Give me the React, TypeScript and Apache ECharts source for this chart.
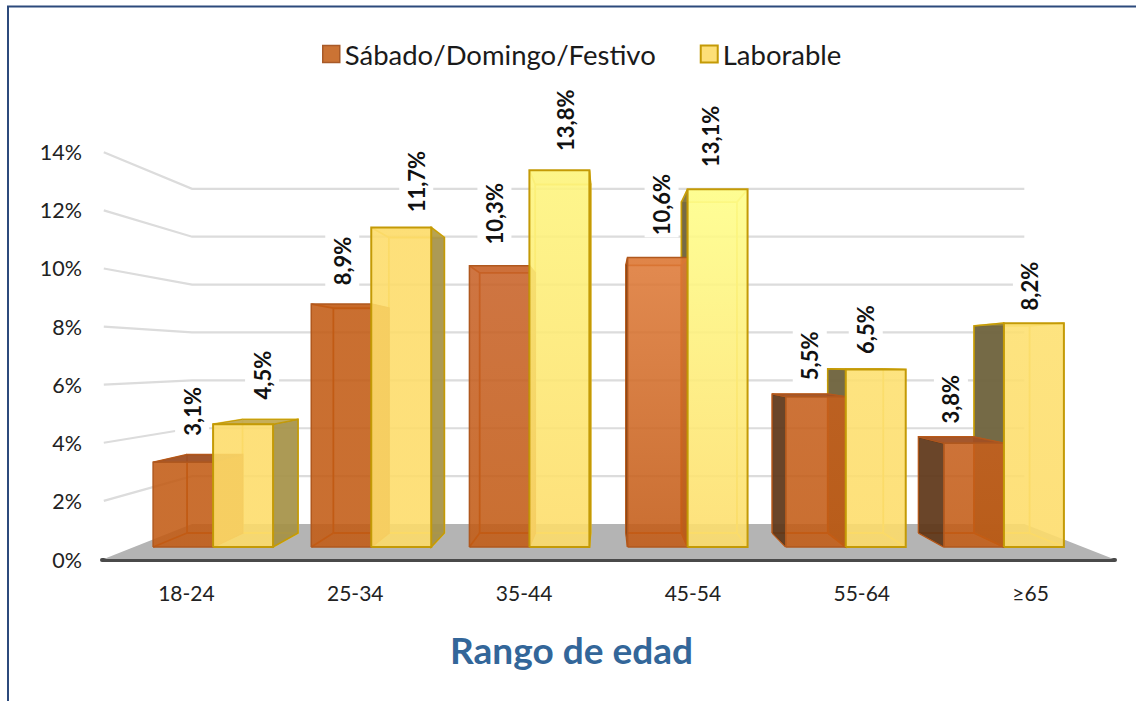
import React, { useEffect, useRef } from "react";
import * as echarts from "echarts";

const categories = ["18-24", "25-34", "35-44", "45-54", "55-64", "≥65"];
const weekendName = "Sábado/Domingo/Festivo";
const workdayName = "Laborable";
const weekendValues = [3.1, 8.9, 10.3, 10.6, 5.5, 3.8];
const workdayValues = [4.5, 11.7, 13.8, 13.1, 6.5, 8.2];
const wallTicks = [2, 4, 6, 8, 10, 12, 14];
const axisName = "Rango de edad";

// layout and style
const FONT = "Lato";
const VP = [606, 360];
const D_BACK = 0.925;
const D_WALL_FRONT = 1.064;
const D_WALL_BACK = 0.877;
const BAR_SHARE = 60 / 158.2;
const weekendLabelShift = [[9, -51], [1, -43], [-5, -52], [4, -53], [-6, -41], [-23, -44]];
const workdayLabelShift = [[19, -49], [15, -46], [6, -50], [-7, -53], [-10, -40], [-4, -37]];
const weekendFront = [
  ["#c25b14", "#c25b14"], ["#c25b14", "#c25b14"], ["#c86228", "#c25b14"],
  ["#de7a38", "#c25a15"], ["#c65f1c", "#c25b14"], ["#c65f1c", "#c25b14"],
];
const workdayFront = [
  ["#fddc6a", "#fddc6a"], ["#fddc6a", "#fddc6a"], ["#fdf57e", "#fddc6a"],
  ["#fefe89", "#fddd6c"], ["#fde070", "#fddc6a"], ["#fde070", "#fddc6a"],
];
const ORANGE = {
  alpha: 0.88, stroke: "#b0581e", inner: "#bf5a14", topOut: "rgba(160,80,35,0.96)",
  topIn: "rgba(190,90,20,0.25)", left: "rgba(95,55,25,0.93)", right: "rgb(190,95,28)", width: 1.5,
};
const YELLOW = {
  alpha: 0.89, stroke: "#c49a06", inner: "#eccb4e", topOut: "rgba(195,170,80,0.95)",
  topIn: "rgba(235,205,80,0.18)", left: "rgba(110,98,60,0.95)", right: "rgba(165,145,70,0.92)", width: 2,
};

const project = (x: number, y: number, d: number) => [VP[0] + (x - VP[0]) * d, VP[1] + (y - VP[1]) * d];

function barGeom(api: any, series: number) {
  const cat = api.value(0);
  const v = api.value(1);
  const [cx, y0] = api.coord([cat, 0]);
  const [, y1] = api.coord([cat, v]);
  const w = api.size([1, 0])[0] * BAR_SHARE;
  const x0 = series === 0 ? cx - w : cx;
  const x1 = x0 + w;
  return { cat, x0, x1, y0, y1 };
}

const poly = (points: number[][], style: any) => ({ type: "polygon", shape: { points }, style });
const line = (points: number[][], stroke: string, lineWidth = 1.5) => ({
  type: "polyline", shape: { points }, style: { stroke, lineWidth, fill: "none" },
});

function backEdges(st: any, x0: number, x1: number, y0: number, y1: number) {
  const bl = project(x0, y0, D_BACK), tl = project(x0, y1, D_BACK);
  const br = project(x1, y0, D_BACK), tr = project(x1, y1, D_BACK);
  return [
    line([bl, tl, tr, br, bl], st.inner, 1.8),
    line([[x0, y0], bl], st.inner, 1.8),
    line([[x1, y0], br], st.inner, 1.8),
    line([[x0, y1], tl], st.inner, 1.8),
    line([[x1, y1], tr], st.inner, 1.8),
  ];
}

// everything of the rear series that lies behind the front series
function renderRearParts(_p: any, api: any) {
  const { x0, x1, y0, y1 } = barGeom(api, 1);
  const children: any[] = backEdges(YELLOW, x0, x1, y0, y1);
  if (x0 > VP[0]) {
    const a = [x0, y0], b = [x0, y1], c = project(x0, y1, D_BACK), d = project(x0, y0, D_BACK);
    children.push(poly([a, b, c, d], { fill: YELLOW.left, stroke: YELLOW.stroke, lineWidth: 1.5 }));
  }
  return { type: "group", children };
}

function renderBar(series: number) {
  const st = series === 0 ? ORANGE : YELLOW;
  const fronts = series === 0 ? weekendFront : workdayFront;
  return (_p: any, api: any) => {
    const { cat, x0, x1, y0, y1 } = barGeom(api, series);
    const bl = project(x0, y0, D_BACK), tl = project(x0, y1, D_BACK);
    const br = project(x1, y0, D_BACK), tr = project(x1, y1, D_BACK);
    const children: any[] = series === 0 ? backEdges(st, x0, x1, y0, y1) : [];
    if (series === 0 && x0 > VP[0]) {
      children.push(poly([[x0, y0], [x0, y1], tl, bl], { fill: st.left, stroke: st.stroke, lineWidth: 1 }));
    }
    if (x1 < VP[0]) {
      children.push(poly([[x1, y0], [x1, y1], tr, br], { fill: st.right, stroke: st.stroke, lineWidth: series === 0 ? 1 : 1.5 }));
    }
    const topOutside = y1 > VP[1];
    children.push(poly([[x0, y1], [x1, y1], tr, tl], {
      fill: topOutside ? st.topOut : st.topIn, stroke: st.stroke, lineWidth: topOutside ? 1 : 0,
    }));
    const [c0, c1] = fronts[cat];
    children.push(poly([[x0, y0], [x0, y1], [x1, y1], [x1, y0]], {
      fill: new echarts.graphic.LinearGradient(0, 0, 0, 1, [{ offset: 0, color: c0 }, { offset: 1, color: c1 }]),
      opacity: st.alpha,
    }));
    children.push(line([[x0, y0], [x0, y1], [x1, y1], [x1, y0], [x0, y0]], st.stroke, st.width));
    return { type: "group", children };
  };
}

function renderLabel(series: number) {
  const shifts = series === 0 ? weekendLabelShift : workdayLabelShift;
  return (_p: any, api: any) => {
    const { cat, x0, x1, y1 } = barGeom(api, series);
    const [dx, dy] = shifts[cat];
    return {
      type: "text",
      x: (x0 + x1) / 2 + dx,
      y: y1 + dy,
      rotation: Math.PI / 2,
      style: {
        text: api.value(1).toFixed(1).replace(".", ",") + "%",
        align: "center", verticalAlign: "middle",
        font: `bold 22px ${FONT}`, fill: "#111",
        backgroundColor: "#fff", padding: [6, 2],
      },
    };
  };
}

function renderGridline(p: any, api: any) {
  const { x, width } = p.coordSys;
  const y = api.coord([0, api.value(1)])[1];
  return line([project(x, y, D_WALL_FRONT), project(x, y, D_WALL_BACK), project(x + width, y, D_WALL_BACK)], "#dcdcdc", 2.2);
}

function renderFloor(p: any, api: any) {
  const { x, width } = p.coordSys;
  const y = api.coord([0, 0])[1];
  return poly([
    project(x, y, D_WALL_FRONT), project(x, y, D_WALL_BACK),
    project(x + width, y, D_WALL_BACK), project(x + width, y, D_WALL_FRONT),
  ], { fill: "#b4b4b4" });
}

const pairs = (vals: number[]) => vals.map((v, i) => [i, v]);

export default function App() {
  const ref = useRef<HTMLDivElement>(null);
  useEffect(() => {
    const chart = echarts.init(ref.current!, null, { renderer: "svg" });
    const custom = (name: string, renderItem: any, data: any[], extra: any = {}) => ({
      type: "custom", name, renderItem, data, xAxisIndex: 0, yAxisIndex: 0, silent: true, ...extra,
    });
    chart.setOption({
      animation: false,
      backgroundColor: "#fff",
      textStyle: { fontFamily: FONT },
      graphic: [{
        type: "polyline", silent: true, z: -1,
        shape: { points: [[8, 701], [8, 6.5], [1136, 6.5]] },
        style: { stroke: "#2c4a7c", lineWidth: 2, fill: "none" },
      }],
      legend: {
        left: 317, top: 35, itemWidth: 17, itemHeight: 17, itemGap: 44,
        selectedMode: false,
        textStyle: { fontSize: 27.5, color: "#1a1a1a", fontFamily: FONT },
        data: [
          { name: weekendName, icon: "rect", itemStyle: { color: "#cb7334", borderColor: "#a85a28", borderWidth: 1.5 } },
          { name: workdayName, icon: "rect", itemStyle: { color: "#fddf78", borderColor: "#c49a06", borderWidth: 2 } },
        ],
      },
      grid: [
        { left: 134, top: 164.8, width: 949, height: 382.2 },
        { left: 102, top: 152, width: 1013, height: 407.5 },
      ],
      xAxis: [
        { type: "category", gridIndex: 0, data: categories, show: false },
        {
          type: "category", gridIndex: 1, data: categories,
          axisLine: { lineStyle: { color: "#4a4a4a", width: 4, cap: "round" } },
          axisTick: { show: false },
          axisLabel: { fontSize: 21, color: "#222", margin: 22, fontFamily: FONT },
          name: axisName, nameLocation: "middle", nameGap: 71,
          nameTextStyle: { fontSize: 37, fontWeight: "bold", color: "#336699", fontFamily: FONT, padding: [0, 74, 0, 0] },
        },
      ],
      yAxis: [
        { type: "value", gridIndex: 0, min: 0, max: 14, interval: 2, show: false },
        {
          type: "value", gridIndex: 1, min: 0, max: 14, interval: 2,
          axisLine: { show: false }, axisTick: { show: false }, splitLine: { show: false },
          axisLabel: { formatter: "{value}%", fontSize: 21.5, color: "#222", margin: 20, fontFamily: FONT },
        },
      ],
      series: [
        custom("floor", renderFloor, [[0, 0]]),
        custom("walls", renderGridline, wallTicks.map((t) => [0, t])),
        custom("labels-a", renderLabel(0), pairs(weekendValues)),
        custom("labels-b", renderLabel(1), pairs(workdayValues)),
        custom("rear-parts", renderRearParts, pairs(workdayValues)),
        custom(weekendName, renderBar(0), pairs(weekendValues), { itemStyle: { color: "#cb7334" } }),
        custom(workdayName, renderBar(1), pairs(workdayValues), { itemStyle: { color: "#fddf78" } }),
      ],
    });
    return () => chart.dispose();
  }, []);
  return <div ref={ref} style={{ position: "fixed", left: 0, top: 0, width: 1136, height: 701 }} />;
}
